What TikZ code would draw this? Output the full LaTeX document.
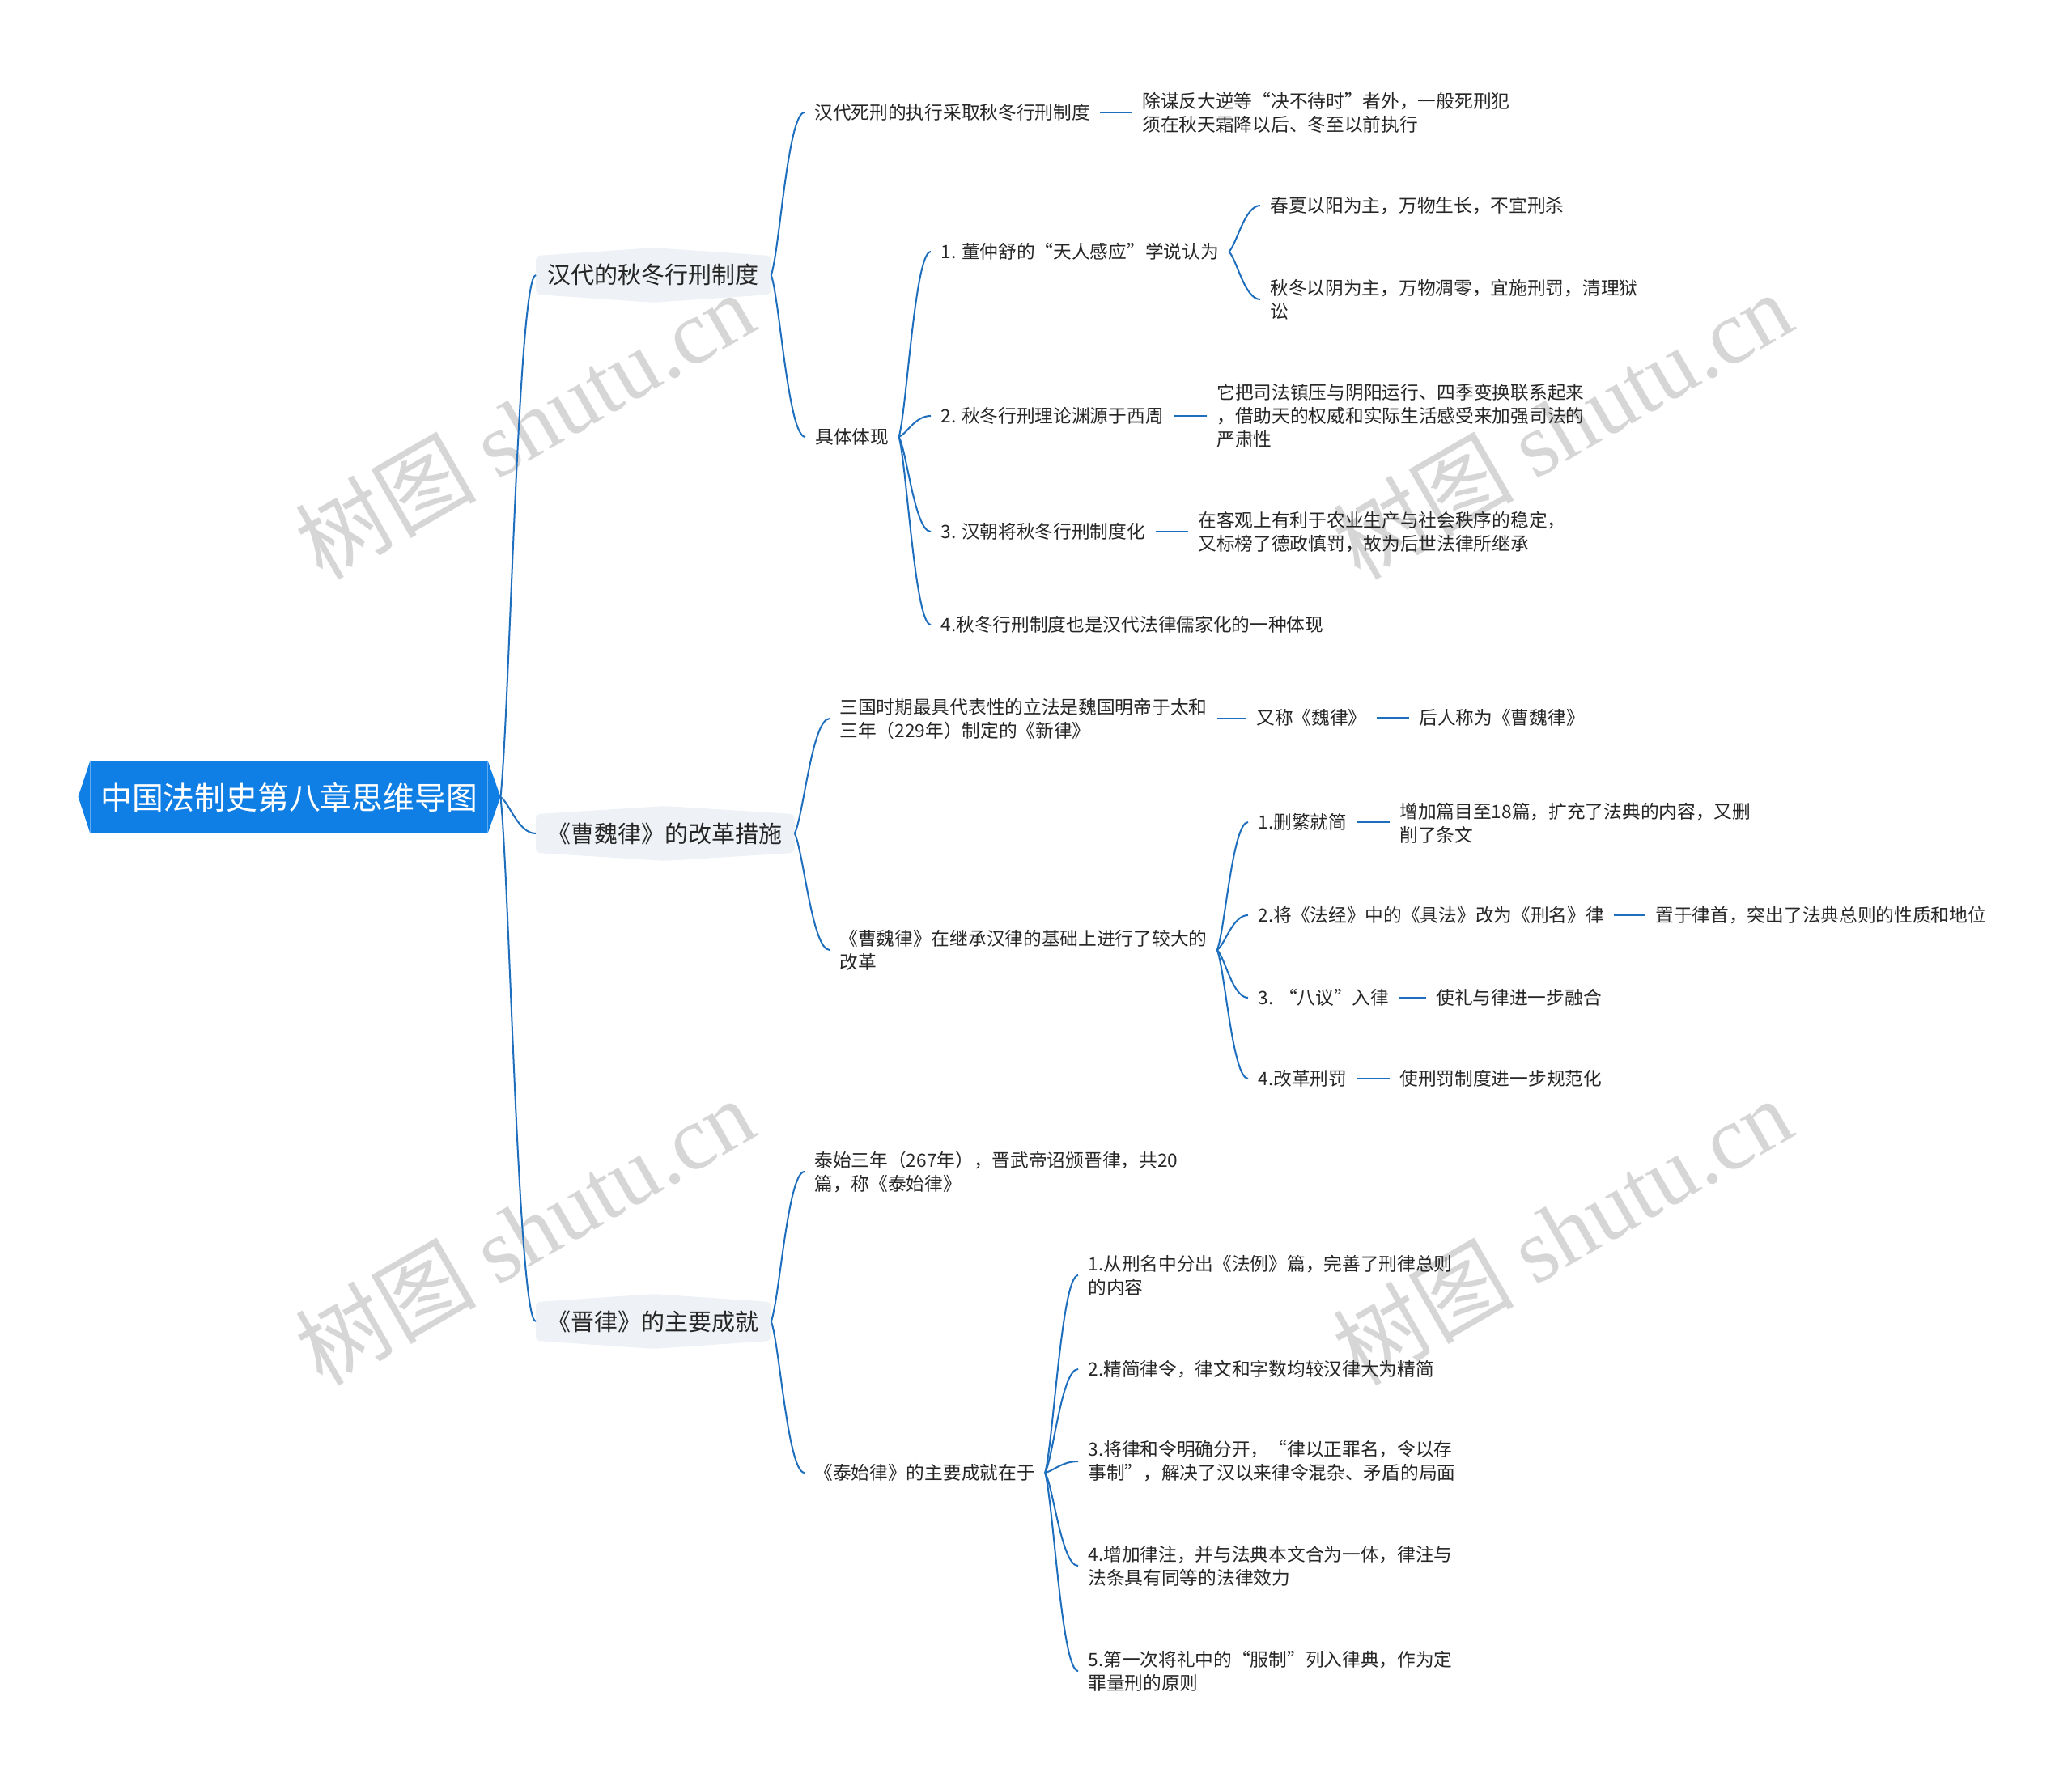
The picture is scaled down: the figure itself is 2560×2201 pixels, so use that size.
\documentclass[tikz,border=0pt]{standalone}
\usepackage{fontspec}
\setmainfont{Noto Sans CJK SC}
\newfontfamily\wmserif{Liberation Serif}
\usetikzlibrary{calc,backgrounds}
\definecolor{lineblue}{HTML}{1E6EBE}
\definecolor{rootblue}{HTML}{0F7FE6}
\definecolor{lonefill}{HTML}{EEF1F5}
\definecolor{txt}{HTML}{262626}
\definecolor{wmgray}{HTML}{D6D6D6}
\tikzset{
  leaf/.style={anchor=west, inner sep=0pt, align=left, text=txt, font=\fontsize{11.35pt}{14.5pt}\selectfont},
  lone/.style={anchor=west, inner xsep=7.25pt, inner ysep=0pt, minimum height=23.5pt, text=txt, font=\fontsize{14.5pt}{17pt}\selectfont},
  rootnode/.style={fill=rootblue, text=white, minimum width=245pt, minimum height=45pt, inner sep=0pt, font=\fontsize{19.4pt}{22pt}\selectfont},
  cline/.style={draw=lineblue, line width=1pt},
  dline/.style={draw=lineblue, line width=1.2pt},
  wm/.style={text=wmgray, rotate=30, inner sep=0pt, font=\fontsize{56pt}{60pt}\selectfont},
}
\newcommand\curvelink[2]{%
  \draw[cline] let \p1=(#1), \p2=(#2) in (\p1) .. controls ({\x1+0.25*(\x2-\x1)},{\y1+0.15*(\y2-\y1)}) and ({\x1+0.5*(\x2-\x1)},\y2) .. (\p2);}
\newcommand\forkpt[1]{\coordinate (#1f) at ($(#1.east)+(12,0)$);}
\newcommand\tailpt[1]{\coordinate (#1e) at ($(#1.west)+(-12,0)$);}
\newcommand\dashlink[2]{\draw[dline] ($(#1.east)+(12,0)$) -- ($(#1.east -| #2.west)+(-12,0)$);}
\newcommand\lonebg[1]{\fill[lonefill, rounded corners=3pt] (#1.south west) -- (#1.north west) -- ([yshift=5pt]#1.north) -- (#1.north east) -- (#1.south east) -- ([yshift=-5pt]#1.south) -- cycle;}
\begin{document}
\begin{tikzpicture}[x=0.5pt,y=-0.5pt]
\useasboundingbox (0,0) rectangle (2560,2201);

% watermarks
\node[wm] (wm1) at (648,525) {树图~{\wmserif shutu.cn}};
\node[wm] (wm2) at (1930,525) {树图~{\wmserif shutu.cn}};
\node[wm] (wm3) at (648,1521) {树图~{\wmserif shutu.cn}};
\node[wm] (wm4) at (1930,1521) {树图~{\wmserif shutu.cn}};

% root
\node[rootnode] (root) at (357,985) {中国法制史第八章思维导图};
\fill[rootblue] (root.north west) -- ++(-15,45) -- (root.south west) -- cycle;
\fill[rootblue] (root.north east) -- ++(16,45) -- (root.south east) -- cycle;
\coordinate (rootR) at ($(root.east)+(16,0)$);

% level 1
\node[lone] (L1) at (662,340) {汉代的秋冬行刑制度};
\node[lone] (L2) at (662,1030) {《曹魏律》的改革措施};
\node[lone] (L3) at (662,1633) {《晋律》的主要成就};

% branch 1
\node[leaf] (A1) at (1006,139) {汉代死刑的执行采取秋冬行刑制度};
\node[leaf] (A1a) at (1411,139) {除谋反大逆等“决不待时”者外，一般死刑犯\\须在秋天霜降以后、冬至以前执行};
\node[leaf] (A2) at (1007,540) {具体体现};
\node[leaf] (B1) at (1162,311) {1. 董仲舒的“天人感应”学说认为};
\node[leaf] (B1a) at (1569,254) {春夏以阳为主，万物生长，不宜刑杀};
\node[leaf] (B1b) at (1569,370) {秋冬以阴为主，万物凋零，宜施刑罚，清理狱\\讼};
\node[leaf] (B2) at (1162,514) {2. 秋冬行刑理论渊源于西周};
\node[leaf] (B2a) at (1503,514) {它把司法镇压与阴阳运行、四季变换联系起来\\，借助天的权威和实际生活感受来加强司法的\\严肃性};
\node[leaf] (B3) at (1162,657) {3. 汉朝将秋冬行刑制度化};
\node[leaf] (B3a) at (1480,658) {在客观上有利于农业生产与社会秩序的稳定，\\又标榜了德政慎罚，故为后世法律所继承};
\node[leaf] (B4) at (1162,772) {4.秋冬行刑制度也是汉代法律儒家化的一种体现};

% branch 2
\node[leaf] (C1) at (1037,888) {三国时期最具代表性的立法是魏国明帝于太和\\三年（229年）制定的《新律》};
\node[leaf] (C1a) at (1552,887) {又称《魏律》};
\node[leaf] (C1b) at (1753,887) {后人称为《曹魏律》};
\node[leaf] (C2) at (1037,1174) {《曹魏律》在继承汉律的基础上进行了较大的\\改革};
\node[leaf] (D1) at (1554,1016) {1.删繁就简};
\node[leaf] (D1a) at (1729,1017) {增加篇目至18篇，扩充了法典的内容，又删\\削了条文};
\node[leaf] (D2) at (1554,1131) {2.将《法经》中的《具法》改为《刑名》律};
\node[leaf] (D2a) at (2045,1131) {置于律首，突出了法典总则的性质和地位};
\node[leaf] (D3) at (1554,1233) {3. “八议”入律};
\node[leaf] (D3a) at (1774,1233) {使礼与律进一步融合};
\node[leaf] (D4) at (1554,1333) {4.改革刑罚};
\node[leaf] (D4a) at (1729,1333) {使刑罚制度进一步规范化};

% branch 3
\node[leaf] (E1) at (1006,1448) {泰始三年（267年），晋武帝诏颁晋律，共20\\篇，称《泰始律》};
\node[leaf] (E2) at (1006,1820) {《泰始律》的主要成就在于};
\node[leaf] (F1) at (1344,1576) {1.从刑名中分出《法例》篇，完善了刑律总则\\的内容};
\node[leaf] (F2) at (1344,1692) {2.精简律令，律文和字数均较汉律大为精简};
\node[leaf] (F3) at (1344,1806) {3.将律和令明确分开，“律以正罪名，令以存\\事制”，解决了汉以来律令混杂、矛盾的局面};
\node[leaf] (F4) at (1344,1935) {4.增加律注，并与法典本文合为一体，律注与\\法条具有同等的法律效力};
\node[leaf] (F5) at (1344,2065) {5.第一次将礼中的“服制”列入律典，作为定\\罪量刑的原则};

% connector points
\forkpt{A2}\forkpt{B1}\forkpt{C2}\forkpt{E2}
\tailpt{A1}\tailpt{A2}\tailpt{B1}\tailpt{B2}\tailpt{B3}\tailpt{B4}
\tailpt{B1a}\tailpt{B1b}\tailpt{C1}\tailpt{C2}
\tailpt{D1}\tailpt{D2}\tailpt{D3}\tailpt{D4}
\tailpt{E1}\tailpt{E2}
\tailpt{F1}\tailpt{F2}\tailpt{F3}\tailpt{F4}\tailpt{F5}

% root to level 1
\curvelink{rootR}{L1.west}
\curvelink{rootR}{L2.west}
\curvelink{rootR}{L3.west}
% level 1 to level 2
\curvelink{L1.east}{A1e}
\curvelink{L1.east}{A2e}
\curvelink{L2.east}{C1e}
\curvelink{L2.east}{C2e}
\curvelink{L3.east}{E1e}
\curvelink{L3.east}{E2e}
% deeper
\curvelink{A2f}{B1e}
\curvelink{A2f}{B2e}
\curvelink{A2f}{B3e}
\curvelink{A2f}{B4e}
\curvelink{B1f}{B1ae}
\curvelink{B1f}{B1be}
\curvelink{C2f}{D1e}
\curvelink{C2f}{D2e}
\curvelink{C2f}{D3e}
\curvelink{C2f}{D4e}
\curvelink{E2f}{F1e}
\curvelink{E2f}{F2e}
\curvelink{E2f}{F3e}
\curvelink{E2f}{F4e}
\curvelink{E2f}{F5e}
% straight links
\dashlink{A1}{A1a}
\dashlink{B2}{B2a}
\dashlink{B3}{B3a}
\dashlink{C1}{C1a}
\dashlink{C1a}{C1b}
\dashlink{D1}{D1a}
\dashlink{D2}{D2a}
\dashlink{D3}{D3a}
\dashlink{D4}{D4a}

\begin{scope}[on background layer]
\fill[white] (0,0) rectangle (2560,2201);
\lonebg{L1}\lonebg{L2}\lonebg{L3}
\end{scope}
\end{tikzpicture}
\end{document}
